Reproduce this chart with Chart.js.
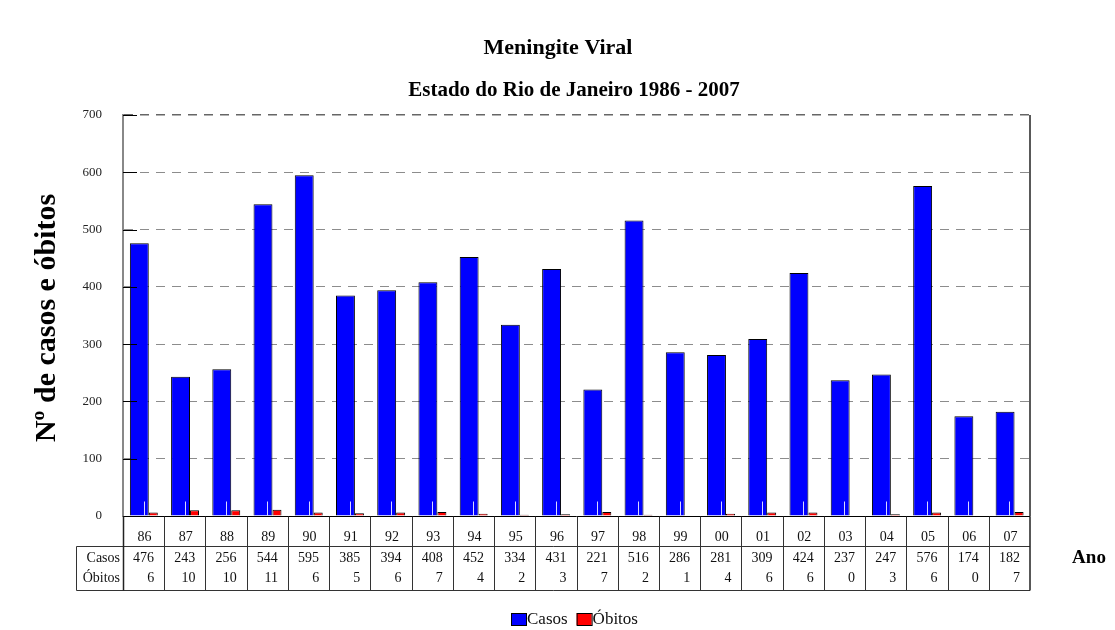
<!DOCTYPE html>
<html lang="pt">
<head>
    <meta charset="UTF-8">
    <title>Meningite Viral - RJ 1986-2007</title>
    <script src="https://cdn.jsdelivr.net/npm/chart.js"></script>
    <style>
        body { margin: 0; background: #fff; }
        #wrap { width: 1115px; height: 630px; }
    </style>
</head>
<body>
    <div id="wrap"><canvas id="meningite" width="1115" height="630"></canvas></div>
    <script>
        // dados
        const anos = ['86', '87', '88', '89', '90', '91', '92', '93', '94', '95', '96', '97', '98', '99', '00', '01', '02', '03', '04', '05', '06', '07'];
        const casos = [476, 243, 256, 544, 595, 385, 394, 408, 452, 334, 431, 221, 516, 286, 281, 309, 424, 237, 247, 576, 174, 182];
        const obitos = [6, 10, 10, 11, 6, 5, 6, 7, 4, 2, 3, 7, 2, 1, 4, 6, 6, 0, 3, 6, 0, 7];
        const rotulosLinhas = ['Casos', 'Óbitos'];

        const SERIF = "'Liberation Serif', 'DejaVu Serif', serif";

        // titulos, tabela de dados, legenda e marcas internas do eixo
        const extras = {
            id: 'extras',
            afterDatasetsDraw(chart) {
                const ctx = chart.ctx;
                const y = chart.scales.y;
                const xs = chart.scales.x;
                const area = chart.chartArea;
                const y0 = Math.round(y.getPixelForValue(0)) + 0.5;
                ctx.save();
                // risquinho claro no pe de cada barra (como no original)
                ctx.strokeStyle = '#d8d8ff';
                ctx.lineWidth = 1;
                anos.forEach((a, i) => {
                    const px = Math.round(xs.getPixelForValue(i)) + 0.5;
                    ctx.beginPath();
                    ctx.moveTo(px, y0 - 1);
                    ctx.lineTo(px, y0 - 15);
                    ctx.stroke();
                });
                // tracinhos pretos dentro da area
                ctx.strokeStyle = '#000';
                for (let v = 0; v <= 700; v += 100) {
                    const py = Math.round(y.getPixelForValue(v)) + 0.5;
                    ctx.beginPath();
                    ctx.moveTo(area.left, py);
                    ctx.lineTo(area.left + 14, py);
                    ctx.stroke();
                }
                // linha do zero
                ctx.beginPath();
                ctx.moveTo(area.left, y0);
                ctx.lineTo(area.right, y0);
                ctx.stroke();
                // borda direita
                ctx.lineWidth = 1.5;
                ctx.strokeStyle = '#222';
                ctx.beginPath();
                ctx.moveTo(area.right, area.top);
                ctx.lineTo(area.right, y0);
                ctx.stroke();
                ctx.restore();
            },
            afterDraw(chart) {
                const ctx = chart.ctx;
                const xs = chart.scales.x;
                const area = chart.chartArea;
                const n = anos.length;
                const w = (area.right - area.left) / n;
                const top = Math.round(chart.scales.y.getPixelForValue(0)) + 0.5;
                const rowLine = 546.5;
                const bottom = 590.5;
                const leftCol = 76.5;

                ctx.save();
                ctx.fillStyle = '#000';
                ctx.textAlign = 'center';
                ctx.textBaseline = 'middle';

                ctx.font = 'bold 22px ' + SERIF;
                ctx.fillText('Meningite Viral', 558, 48);
                ctx.font = 'bold 21px ' + SERIF;
                ctx.fillText('Estado do Rio de Janeiro 1986 - 2007', 574, 91);

                ctx.font = 'bold 19px ' + SERIF;
                ctx.fillText('Ano', 1089, 558);

                ctx.save();
                ctx.translate(47, 318);
                ctx.rotate(-Math.PI / 2);
                ctx.font = 'bold 30px ' + SERIF;
                ctx.fillText('Nº de casos e óbitos', 0, 0);
                ctx.restore();

                // grade da tabela
                ctx.strokeStyle = '#333';
                ctx.lineWidth = 1;
                ctx.beginPath();
                for (let i = 1; i < n; i++) {
                    const px = Math.round(area.left + i * w) + 0.5;
                    ctx.moveTo(px, top);
                    ctx.lineTo(px, bottom);
                }
                ctx.moveTo(leftCol, rowLine);
                ctx.lineTo(area.right, rowLine);
                ctx.moveTo(leftCol, bottom);
                ctx.lineTo(area.right, bottom);
                ctx.moveTo(leftCol, rowLine);
                ctx.lineTo(leftCol, bottom);
                ctx.stroke();
                ctx.lineWidth = 1.5;
                ctx.strokeStyle = '#222';
                ctx.beginPath();
                ctx.moveTo(Math.round(area.left) + 0.5, top);
                ctx.lineTo(Math.round(area.left) + 0.5, bottom);
                ctx.moveTo(area.right, top);
                ctx.lineTo(area.right, bottom);
                ctx.stroke();

                ctx.font = '14px ' + SERIF;
                ctx.fillStyle = '#111';
                ctx.textAlign = 'right';
                ctx.fillText(rotulosLinhas[0], 120, 558);
                ctx.fillText(rotulosLinhas[1], 120, 578);
                anos.forEach((a, i) => {
                    const cx = xs.getPixelForValue(i);
                    const right = area.left + (i + 1) * w;
                    ctx.textAlign = 'center';
                    ctx.fillText(a, cx + 1, 537);
                    ctx.fillText(String(casos[i]), cx, 558);
                    ctx.textAlign = 'right';
                    ctx.fillText(String(obitos[i]), right - 10, 578);
                });

                // legenda
                const ds = chart.data.datasets;
                ctx.font = '17px ' + SERIF;
                ctx.textAlign = 'left';
                let lx = 511;
                ds.forEach(d => {
                    ctx.fillStyle = d.backgroundColor;
                    ctx.fillRect(lx, 613, 15, 12);
                    ctx.strokeStyle = '#000';
                    ctx.lineWidth = 1;
                    ctx.strokeRect(lx + 0.5, 613.5, 15, 12);
                    ctx.fillStyle = '#111';
                    ctx.fillText(d.label, lx + 16, 620);
                    lx += 16 + ctx.measureText(d.label).width + 9;
                });
                ctx.restore();
            }
        };

        const ctx = document.getElementById('meningite').getContext('2d');
        const grafico = new Chart(ctx, {
            type: 'bar',
            data: {
                labels: anos,
                datasets: [{
                    label: 'Casos',
                    data: casos,
                    backgroundColor: '#0000ff',
                    borderColor: '#000',
                    borderWidth: 1,
                    categoryPercentage: 0.417,
                    barPercentage: 2.2
                }, {
                    label: 'Óbitos',
                    data: obitos,
                    backgroundColor: '#ff0000',
                    borderColor: '#000',
                    borderWidth: 1,
                    categoryPercentage: 0.94,
                    barPercentage: 0.464
                }]
            },
            options: {
                responsive: false,
                animation: false,
                layout: { padding: { left: 73, right: 85, top: 115, bottom: 114 } },
                plugins: {
                    legend: { display: false },
                    title: { display: false },
                    tooltip: { enabled: false }
                },
                scales: {
                    x: {
                        ticks: { display: false },
                        grid: { display: false },
                        border: { display: false },
                        afterFit(scale) { scale.height = 0; }
                    },
                    y: {
                        min: 0,
                        max: 700,
                        ticks: {
                            stepSize: 100,
                            padding: 21,
                            color: '#222',
                            font: { family: SERIF, size: 13 }
                        },
                        grid: {
                            drawTicks: false,
                            color: c => c.tick.value === 0 ? 'rgba(0,0,0,0)' : (c.tick.value === 700 ? '#666' : '#8c8c8c'),
                            lineWidth: c => c.tick.value === 700 ? 1.5 : 1
                        },
                        border: { color: '#888', width: 2, dash: [9, 7] },
                        afterFit(scale) { scale.width = 50; }
                    }
                }
            },
            plugins: [extras]
        });
    </script>
</body>
</html>
